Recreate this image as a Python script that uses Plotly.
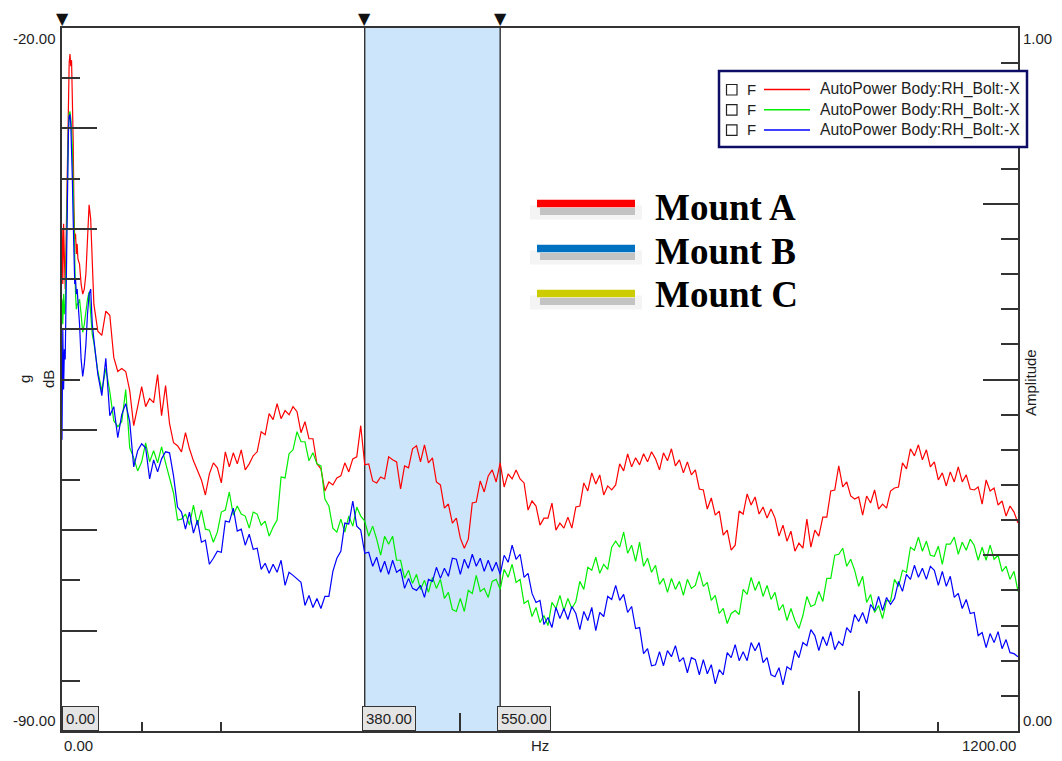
import plotly.graph_objects as go

# Frequency grid (Hz): fine near the low-frequency peak, 5 Hz steps above 40 Hz
freq_hz = list(range(0, 21)) + list(range(22, 41, 2)) + list(range(45, 1201, 5))

# Auto-power spectra, dB re 1 g
red_db = [
    -40.0, -45.5, -39.5, -44.0, -46.0, -42.0, -36.0, -30.0, -25.5, -23.5, -22.6,
    -23.8, -23.2, -26.0, -31.0, -38.0, -41.0, -40.5, -42.5, -41.5, -43.0,
    -43.5, -45.5, -46.5, -46.0, -44.5, -40.5, -37.6, -39.0, -44.0, -47.5,
    -50.2, -50.6, -48.2, -48.6, -52.8, -54.2, -53.9, -54.2, -56.1, -59.6,
    -57.7, -55.7, -57.7, -56.9, -57.3, -54.5, -58.6, -55.6, -59.4, -61.3,
    -61.6, -62.2, -60.3, -61.9, -63.1, -64.1, -65.0, -66.5, -64.4, -63.3,
    -63.8, -65.3, -62.2, -63.7, -62.3, -63.4, -62.0, -64.0, -63.4, -62.6,
    -62.2, -60.2, -60.5, -58.4, -59.0, -57.4, -58.9, -58.1, -58.5, -57.7,
    -58.2, -60.3, -59.2, -60.9, -60.9, -63.4, -63.9, -66.1, -65.2, -65.5,
    -64.8, -64.6, -63.3, -64.2, -62.9, -62.7, -59.6, -63.5, -63.4, -65.1,
    -65.3, -64.7, -64.9, -62.7, -63.0, -63.2, -65.9, -63.6, -63.8, -61.9,
    -61.6, -63.2, -61.5, -63.3, -62.8, -65.2, -65.5, -67.8, -67.4, -69.3,
    -68.8, -70.8, -71.8, -70.9, -67.3, -67.2, -65.1, -66.2, -64.6, -64.0,
    -65.2, -63.3, -65.7, -64.4, -64.9, -64.0, -64.9, -65.3, -68.0, -67.1,
    -67.6, -69.5, -68.8, -68.8, -67.3, -70.0, -69.3, -69.8, -68.7, -69.8,
    -67.7, -67.6, -65.3, -66.1, -64.3, -65.4, -64.5, -66.5, -65.6, -66.0,
    -65.5, -63.4, -64.1, -62.4, -63.7, -62.8, -63.5, -62.4, -63.2, -62.2,
    -62.9, -64.0, -62.3, -63.1, -61.9, -63.6, -63.0, -64.3, -63.2, -64.5,
    -64.0, -65.9, -66.0, -67.9, -66.8, -68.5, -68.1, -70.5, -70.0, -72.0,
    -71.5, -68.1, -68.4, -66.4, -67.5, -66.7, -68.4, -67.7, -68.8, -67.9,
    -68.8, -70.6, -69.5, -71.1, -70.1, -72.1, -71.3, -71.8, -68.9, -71.7,
    -70.0, -70.6, -68.7, -68.7, -66.1, -66.0, -63.6, -65.7, -65.2, -66.6,
    -66.9, -66.7, -68.5, -66.6, -67.3, -66.0, -67.9, -67.4, -67.8, -66.1,
    -65.8, -65.7, -63.3, -63.9, -61.9, -62.6, -61.5, -63.0, -62.0, -63.7,
    -63.2, -65.0, -64.3, -65.6, -64.2, -65.2, -63.7, -65.2, -64.5, -65.9,
    -66.0, -65.7, -67.4, -65.0, -66.1, -65.8, -67.5, -67.1, -68.6, -67.6,
    -68.2, -69.3,
]

green_db = [
    -47.0, -49.5, -46.5, -48.5, -48.0, -43.0, -38.0, -33.0, -30.0, -28.5, -28.3,
    -29.0, -30.0, -32.0, -35.5, -40.0, -45.0, -46.5, -48.0, -47.5, -47.5,
    -47.0, -48.5, -50.3, -49.5, -48.0, -47.0, -46.3, -48.0, -50.5, -51.3,
    -54.2, -56.1, -53.9, -56.2, -59.1, -59.7, -59.2, -56.0, -61.8, -62.8,
    -64.1, -63.2, -61.3, -63.2, -62.1, -63.3, -61.7, -63.3, -64.9, -66.3,
    -69.0, -68.9, -68.4, -69.5, -67.5, -69.5, -68.0, -69.9, -70.0, -71.2,
    -70.2, -68.2, -68.0, -66.2, -68.5, -67.6, -68.4, -68.6, -69.8, -68.2,
    -68.4, -69.5, -69.1, -70.6, -69.7, -69.0, -64.7, -64.8, -62.4, -62.0,
    -60.2, -61.2, -61.2, -63.1, -62.3, -63.4, -63.6, -66.9, -67.6, -69.8,
    -70.2, -68.9, -70.2, -68.6, -69.6, -67.7, -68.6, -69.1, -70.6, -69.6,
    -70.9, -72.5, -70.6, -71.4, -70.6, -73.0, -73.0, -74.8, -74.0, -75.3,
    -74.4, -75.9, -75.0, -76.2, -74.7, -75.8, -74.9, -76.8, -76.2, -77.9,
    -78.1, -76.8, -78.1, -76.0, -76.3, -74.5, -76.1, -75.8, -76.7, -75.1,
    -74.9, -75.9, -73.9, -74.7, -73.4, -75.2, -74.9, -77.3, -77.0, -78.6,
    -77.7, -79.2, -78.5, -79.5, -77.2, -77.8, -76.5, -78.0, -76.8, -77.8,
    -77.1, -75.1, -75.9, -73.7, -74.0, -72.7, -74.3, -73.4, -73.9, -71.7,
    -71.1, -71.7, -70.2, -72.3, -71.5, -73.1, -71.2, -73.6, -72.8, -74.2,
    -73.5, -75.4, -74.8, -76.2, -74.8, -75.9, -75.1, -76.5, -74.9, -75.8,
    -75.5, -74.1, -75.6, -75.2, -77.0, -76.5, -78.3, -77.8, -79.3, -78.3,
    -78.0, -78.4, -75.9, -76.4, -74.7, -76.0, -75.1, -76.6, -75.5, -76.9,
    -76.2, -78.0, -77.4, -79.0, -77.8, -79.0, -79.8, -78.5, -76.6, -77.6,
    -77.4, -76.1, -77.1, -74.8, -74.8, -72.5, -72.4, -71.8, -73.6, -72.9,
    -74.0, -75.6, -74.6, -77.2, -76.4, -78.2, -77.5, -78.8, -77.0, -77.1,
    -74.9, -75.6, -74.0, -74.2, -71.7, -72.0, -70.7, -72.1, -71.1, -72.5,
    -72.6, -71.6, -73.4, -71.4, -71.4, -70.7, -72.4, -71.2, -72.0, -70.9,
    -71.5, -73.0, -71.7, -73.0, -71.5, -72.9, -72.5, -74.1, -73.6, -74.9,
    -74.1, -76.1,
]

blue_db = [
    -61.0, -50.0, -56.0, -52.0, -53.0, -47.0, -42.0, -35.0, -30.5, -28.8, -28.6,
    -29.5, -31.5, -35.0, -39.0, -43.0, -45.5, -45.0, -46.5, -46.0, -47.0,
    -49.5, -53.0, -54.7, -53.5, -51.5, -48.5, -46.5, -46.0, -49.5, -51.0,
    -54.5, -56.6, -52.9, -58.6, -57.7, -60.8, -58.5, -57.4, -59.2, -63.7,
    -62.1, -61.4, -61.8, -64.9, -63.0, -64.2, -62.9, -62.2, -62.3, -64.6,
    -67.7, -68.2, -69.9, -68.2, -70.3, -69.0, -71.2, -71.0, -73.4, -72.8,
    -72.1, -72.2, -69.1, -69.2, -67.8, -70.1, -69.9, -71.5, -70.4, -71.9,
    -71.8, -73.9, -73.3, -74.3, -73.4, -74.2, -73.0, -75.5, -74.2, -74.5,
    -74.9, -75.2, -77.5, -76.5, -77.7, -76.8, -77.8, -76.6, -76.6, -74.1,
    -72.8, -72.1, -69.3, -69.4, -67.1, -69.6, -70.0, -72.3, -72.2, -73.6,
    -72.7, -74.2, -73.1, -74.4, -73.0, -74.2, -73.9, -75.8, -74.8, -75.8,
    -76.0, -75.5, -76.7, -74.9, -75.1, -73.7, -74.8, -73.8, -74.6, -72.8,
    -72.9, -74.4, -72.9, -73.8, -72.4, -73.6, -72.8, -74.1, -73.0, -74.1,
    -73.2, -74.4, -72.5, -73.2, -71.5, -72.9, -72.4, -74.7, -74.3, -76.3,
    -77.2, -77.0, -79.4, -78.7, -79.7, -77.7, -78.8, -77.8, -78.9, -77.6,
    -78.3, -79.9, -78.1, -79.0, -77.7, -80.0, -78.2, -78.6, -76.6, -76.9,
    -75.5, -77.0, -76.4, -78.2, -77.6, -79.8, -79.7, -82.3, -81.8, -83.5,
    -83.4, -82.1, -83.5, -82.0, -82.6, -81.5, -83.1, -82.7, -84.2, -82.7,
    -82.9, -84.4, -82.9, -84.3, -83.4, -85.3, -83.9, -84.4, -82.2, -82.7,
    -81.4, -83.0, -82.1, -83.0, -81.2, -82.0, -81.2, -83.2, -82.7, -84.4,
    -84.6, -83.7, -85.4, -83.6, -83.9, -82.0, -82.7, -81.2, -81.5, -79.9,
    -80.5, -82.0, -80.6, -81.5, -80.1, -81.9, -81.1, -81.5, -79.7, -80.2,
    -78.4, -79.1, -78.2, -79.3, -77.4, -78.0, -76.6, -78.0, -76.7, -77.4,
    -76.8, -75.1, -76.1, -74.4, -74.9, -73.5, -74.7, -73.8, -74.9, -73.6,
    -74.0, -75.5, -74.1, -75.6, -74.6, -76.7, -76.3, -77.8, -76.9, -78.3,
    -78.2, -80.5, -80.2, -81.7, -80.3, -81.2, -80.1, -81.8, -80.9, -82.2,
    -82.3, -82.6,
]

# Cursor positions (Hz) and the shaded band between the two cursors
cursor_hz = [0, 380, 550]
band_hz = [380, 550]

# Axis ranges and tick positions
freq_range = [0, 1200]
db_range = [-90, -20]
amp_range = [0, 1]
db_ticks_major = [-30, -40, -50, -60, -70, -80]
db_ticks_minor = [-25, -35, -45, -55, -65, -75, -85]
amp_ticks_major = [0.25, 0.5, 0.75]
amp_ticks_minor = [0.05, 0.1, 0.15, 0.2, 0.3, 0.35, 0.4, 0.45,
                   0.55, 0.6, 0.65, 0.7, 0.8, 0.85, 0.9, 0.95]
freq_ticks_short = [100, 200, 1100]
freq_ticks_mid = [500]
freq_ticks_long = [1000]

trace_label = "AutoPower Body:RH_Bolt:-X"
trace_colors = ["#ff0000", "#00ee00", "#0000ff"]
mount_names = ["Mount A", "Mount B", "Mount C"]
mount_colors = ["#ff0000", "#0070c0", "#cccc00"]

# Page geometry (pixels) used to place the decorations
W, H = 1062, 761
L, R, T, B = 62, 44, 28, 30
PW, PH = W - L - R, H - T - B


def px_x(p):
    return (p - L) / PW


def px_y(p):
    return 1 - (p - T) / PH


FONT = "Liberation Sans, Arial, sans-serif"
TXT = "#1e1e1e"
AX = "#333333"

fig = go.Figure()

for ys, col in zip([red_db, green_db, blue_db], trace_colors):
    fig.add_trace(go.Scatter(
        x=freq_hz, y=ys, mode="lines",
        line=dict(color=col, width=1.2),
        showlegend=False, hoverinfo="skip",
    ))

# empty traces so that the extra tick axes are drawn
for xa, ya in [("x", "y2"), ("x", "y3"), ("x", "y4"), ("x2", "y"), ("x3", "y")]:
    fig.add_trace(go.Scatter(x=[None], y=[None], xaxis=xa, yaxis=ya, showlegend=False,
                             hoverinfo="skip", mode="lines"))

shapes = []
annotations = []

# shaded band between cursors
shapes.append(dict(type="rect", xref="x", yref="paper", x0=band_hz[0], x1=band_hz[1],
                   y0=0, y1=1, fillcolor="#cce5fb", line=dict(width=0), layer="below"))
for c in band_hz:
    shapes.append(dict(type="line", xref="x", yref="paper", x0=c, x1=c, y0=0, y1=1,
                       line=dict(color="#222222", width=1.3), layer="below"))

# cursor markers on top and value boxes at the bottom
for c in cursor_hz:
    annotations.append(dict(x=c, y=1, xref="x", yref="paper", text="▼", showarrow=False,
                            xanchor="center", yanchor="bottom", yshift=-2,
                            font=dict(family="DejaVu Sans", size=16, color="#111111")))
    annotations.append(dict(x=c, y=0, xref="x", yref="paper", text=f"{c:.2f}",
                            showarrow=False, xanchor="left", yanchor="bottom",
                            xshift=0 if c == 0 else -3,
                            bgcolor="#e4e4e4", bordercolor="#333333", borderwidth=1,
                            borderpad=3, font=dict(family=FONT, size=15, color=TXT)))

# axis end labels and titles
lab = dict(family=FONT, size=15, color=TXT)
annotations += [
    dict(x=0, y=1, xref="paper", yref="paper", text=f"{db_range[1]:.2f}", showarrow=False,
         xanchor="right", yanchor="top", xshift=-4, font=lab),
    dict(x=0, y=0, xref="paper", yref="paper", text=f"{db_range[0]:.2f}", showarrow=False,
         xanchor="right", yanchor="bottom", xshift=-4, font=lab),
    dict(x=1, y=1, xref="paper", yref="paper", text=f"{amp_range[1]:.2f}", showarrow=False,
         xanchor="left", yanchor="top", xshift=3, font=lab),
    dict(x=1, y=0, xref="paper", yref="paper", text=f"{amp_range[0]:.2f}", showarrow=False,
         xanchor="left", yanchor="bottom", xshift=3, font=lab),
    dict(x=0, y=0, xref="paper", yref="paper", text=f"{freq_range[0]:.2f}", showarrow=False,
         xanchor="left", yanchor="top", yshift=-4, font=lab),
    dict(x=1, y=0, xref="paper", yref="paper", text=f"{freq_range[1]:.2f}", showarrow=False,
         xanchor="right", yanchor="top", yshift=-4, font=lab),
    dict(x=0.5, y=0, xref="paper", yref="paper", text="Hz", showarrow=False,
         xanchor="center", yanchor="top", yshift=-4, font=lab),
    dict(x=px_x(24), y=px_y(379), xref="paper", yref="paper", text="g", showarrow=False,
         textangle=-90, xanchor="center", yanchor="middle", font=lab),
    dict(x=px_x(48), y=px_y(379), xref="paper", yref="paper", text="dB", showarrow=False,
         textangle=-90, xanchor="center", yanchor="middle", font=lab),
    dict(x=px_x(1030), y=px_y(383), xref="paper", yref="paper", text="Amplitude",
         showarrow=False, textangle=-90, xanchor="center", yanchor="middle", font=lab),
]

# trace legend box
shapes.append(dict(type="rect", xref="paper", yref="paper",
                   x0=px_x(719), x1=px_x(1027), y0=px_y(147), y1=px_y(71),
                   fillcolor="white", line=dict(color="#0d0d66", width=2.5), layer="above"))
for i, col in enumerate(trace_colors):
    cy = 89.5 + 20.2 * i
    shapes.append(dict(type="rect", xref="paper", yref="paper",
                       x0=px_x(726.5), x1=px_x(737), y0=px_y(cy + 5.5), y1=px_y(cy - 5),
                       fillcolor="white", line=dict(color="#222222", width=1.2), layer="above"))
    shapes.append(dict(type="line", xref="paper", yref="paper",
                       x0=px_x(764), x1=px_x(810), y0=px_y(cy), y1=px_y(cy),
                       line=dict(color=col, width=1.5), layer="above"))
    annotations.append(dict(x=px_x(745), y=px_y(cy), xref="paper", yref="paper", text="F",
                            showarrow=False, xanchor="left", yanchor="middle",
                            font=dict(family=FONT, size=15, color=TXT)))
    annotations.append(dict(x=px_x(818), y=px_y(cy), xref="paper", yref="paper",
                            text=trace_label, showarrow=False, xanchor="left",
                            yanchor="middle", font=dict(family=FONT, size=15.7, color=TXT)))

# mount key
for i, (name, col) in enumerate(zip(mount_names, mount_colors)):
    cy = 203.5 + 45 * i
    ty = 207.5 + 43.5 * i
    shapes.append(dict(type="line", xref="paper", yref="paper",
                       x0=px_x(530), x1=px_x(642), y0=px_y(cy + 9), y1=px_y(cy + 9),
                       line=dict(color="#f4f4f4", width=14), layer="above"))
    shapes.append(dict(type="line", xref="paper", yref="paper",
                       x0=px_x(540), x1=px_x(635), y0=px_y(cy + 8), y1=px_y(cy + 8),
                       line=dict(color="#c3c3c3", width=7), layer="above"))
    shapes.append(dict(type="line", xref="paper", yref="paper",
                       x0=px_x(537), x1=px_x(635), y0=px_y(cy), y1=px_y(cy),
                       line=dict(color=col, width=7.5), layer="above"))
    annotations.append(dict(x=px_x(653), y=px_y(ty), xref="paper", yref="paper",
                            text=f"<b>{name}</b>", showarrow=False, xanchor="left",
                            yanchor="middle",
                            font=dict(family="Liberation Serif, Times New Roman, serif",
                                      size=37, color="#000000")))

tick_common = dict(ticks="inside", tickcolor=AX, tickwidth=1.5, showticklabels=False,
                   showgrid=False, zeroline=False)

fig.update_layout(
    width=W, height=H,
    margin=dict(l=L, r=R, t=T, b=B, pad=0),
    paper_bgcolor="white", plot_bgcolor="white",
    showlegend=False,
    xaxis=dict(range=freq_range, showline=True, linecolor=AX, linewidth=1.5, mirror=True,
               tickvals=freq_ticks_short, ticklen=9, **tick_common),
    xaxis2=dict(range=freq_range, overlaying="x", side="bottom", anchor="y", showline=False,
                tickvals=freq_ticks_mid, ticklen=18, **tick_common),
    xaxis3=dict(range=freq_range, overlaying="x", side="bottom", anchor="y", showline=False,
                tickvals=freq_ticks_long, ticklen=40, **tick_common),
    yaxis=dict(range=db_range, showline=True, linecolor=AX, linewidth=1.5, mirror=True,
               tickvals=db_ticks_major, ticklen=35, **tick_common),
    yaxis2=dict(range=db_range, overlaying="y", side="left", showline=False,
                tickvals=db_ticks_minor, ticklen=18, **tick_common),
    yaxis3=dict(range=amp_range, overlaying="y", side="right", showline=False,
                tickvals=amp_ticks_major, ticklen=35, **tick_common),
    yaxis4=dict(range=amp_range, overlaying="y", side="right", showline=False,
                tickvals=amp_ticks_minor, ticklen=17, **tick_common),
    shapes=shapes,
    annotations=annotations,
)

fig.write_html("out.html")
